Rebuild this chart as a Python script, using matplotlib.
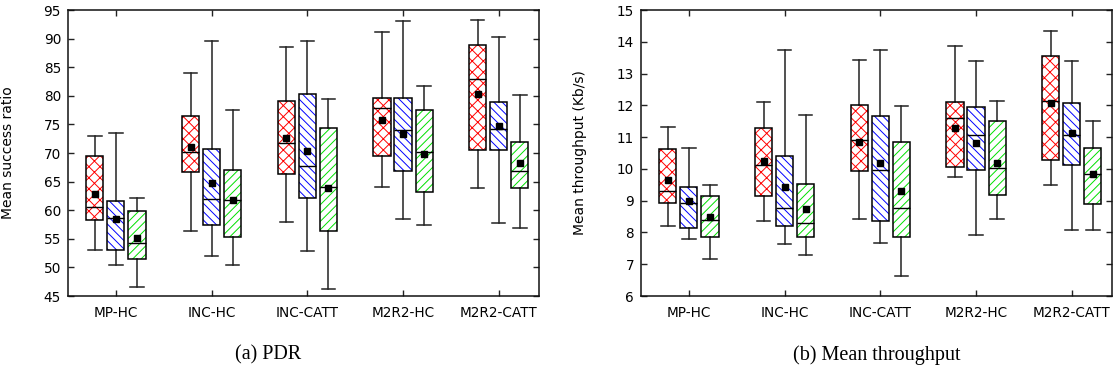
import matplotlib
matplotlib.use("Agg")
import matplotlib.pyplot as plt
import matplotlib.patches as mpatches
import numpy as np

# Categories on the x axis
categories = ["MP-HC", "INC-HC", "INC-CATT", "M2R2-HC", "M2R2-CATT"]

# Each entry: (whisker low, Q1, median, Q3, whisker high, mean)
pdr_s1 = [(53.0, 58.3, 60.55, 69.5, 73.0, 62.9),
          (56.4, 66.6, 70.1, 76.5, 84.0, 71.0),
          (58.0, 66.4, 71.7, 79.15, 88.5, 72.7),
          (64.1, 69.5, 77.8, 79.56, 91.2, 75.8),
          (63.8, 70.5, 82.9, 88.8, 93.3, 80.4)]
pdr_s2 = [(50.5, 53.0, 58.6, 61.65, 73.55, 58.45),
          (52.05, 57.5, 62.0, 70.7, 89.6, 64.8),
          (52.9, 62.1, 67.8, 80.3, 89.6, 70.35),
          (58.5, 66.85, 74.0, 79.7, 93.0, 73.3),
          (57.8, 70.5, 74.2, 79.0, 90.2, 74.7)]
pdr_s3 = [(46.5, 51.4, 54.2, 59.8, 62.2, 55.1),
          (50.4, 55.4, 61.8, 67.1, 77.6, 61.8),
          (46.2, 56.4, 64.0, 74.3, 79.5, 63.9),
          (57.35, 63.1, 70.2, 77.6, 81.8, 69.9),
          (56.9, 63.8, 66.85, 72.0, 80.1, 68.3)]

thr_s1 = [(8.19, 8.93, 9.30, 10.63, 11.32, 9.65),
          (8.35, 9.16, 10.12, 11.30, 12.11, 10.25),
          (8.42, 9.92, 10.90, 12.00, 13.43, 10.85),
          (9.75, 10.05, 11.59, 12.11, 13.87, 11.29),
          (9.49, 10.28, 12.15, 13.55, 14.34, 12.06)]
thr_s2 = [(7.79, 8.14, 8.92, 9.43, 10.66, 8.99),
          (7.65, 8.19, 8.77, 10.42, 13.74, 9.43),
          (7.67, 8.37, 9.95, 11.67, 13.74, 10.20),
          (7.93, 9.97, 11.08, 11.96, 13.39, 10.80),
          (8.09, 10.11, 11.08, 12.06, 13.39, 11.13)]
thr_s3 = [(7.17, 7.86, 8.39, 9.16, 9.50, 8.49),
          (7.29, 7.86, 8.30, 9.53, 11.71, 8.73),
          (6.64, 7.87, 8.76, 10.86, 11.97, 9.30),
          (8.42, 9.18, 10.03, 11.51, 12.14, 10.20),
          (8.09, 8.88, 9.83, 10.66, 11.52, 9.84)]

pdr_ticks = list(range(45, 96, 5))
thr_ticks = list(range(6, 16, 1))

# Styling per series: hatch colour and pattern
series_styles = [("#ff0000", "xxx"), ("#0000ff", "\\\\\\\\"), ("#00e000", "////")]
offsets = [-0.22, 0.0, 0.22]
box_w = 0.18
cap_w = 0.14

plt.rcParams["font.family"] = ["DejaVu Sans"]
plt.rcParams["hatch.linewidth"] = 0.7

fig = plt.figure(figsize=(11.13, 3.78), dpi=100)
ax1 = fig.add_axes([68 / 1113, 1 - 296 / 378, 471 / 1113, 286 / 378])
ax2 = fig.add_axes([641 / 1113, 1 - 296 / 378, 471 / 1113, 286 / 378])


def make_stats(rows):
    return [dict(whislo=r[0], q1=r[1], med=r[2], q3=r[3], whishi=r[4],
                 mean=r[5], fliers=[]) for r in rows]


def draw_panel(ax, series, ylim, yticks, ylabel):
    x = np.arange(1, len(categories) + 1)
    for rows, (col, hatch), off in zip(series, series_styles, offsets):
        res = ax.bxp(make_stats(rows), positions=x + off, widths=box_w,
                     patch_artist=True, showmeans=True, capwidths=cap_w,
                     manage_ticks=False,
                     boxprops=dict(facecolor="white", edgecolor=col,
                                   hatch=hatch, linewidth=0),
                     whiskerprops=dict(color="#222222", linewidth=1.1),
                     capprops=dict(color="#222222", linewidth=1.1),
                     medianprops=dict(color="black", linewidth=1.0),
                     meanprops=dict(marker="s", markerfacecolor="black",
                                    markeredgecolor="black", markersize=4.0))
        for box in res["boxes"]:
            outline = mpatches.PathPatch(box.get_path(), transform=box.get_transform(),
                                         fill=False, edgecolor="black",
                                         linewidth=1.1, zorder=box.get_zorder() + 0.1)
            ax.add_patch(outline)
        for m in res["medians"]:
            m.set_zorder(3)
        for m in res["means"]:
            m.set_zorder(4)
    ax.set_xlim(0.5, 5.42)
    ax.set_ylim(*ylim)
    ax.set_xticks(x)
    ax.set_xticklabels(categories)
    ax.set_yticks(yticks)
    ax.tick_params(direction="in", length=4.5, width=1.0, top=True, right=True,
                   labelsize=9.8, color="#222222")
    ax.tick_params(axis="x", pad=7)
    ax.tick_params(axis="y", pad=5)
    for s in ax.spines.values():
        s.set_linewidth(1.1)
        s.set_color("#111111")
    ax.set_ylabel(ylabel, fontsize=10)


draw_panel(ax1, [pdr_s1, pdr_s2, pdr_s3], (45, 95), pdr_ticks, "Mean success ratio")
draw_panel(ax2, [thr_s1, thr_s2, thr_s3], (6, 15), thr_ticks, "Mean throughput (Kb/s)")

ax1.yaxis.set_label_coords(-0.112, 0.5)
ax2.yaxis.set_label_coords(-0.115, 0.5)

fig.text(268 / 1113, 1 - 355 / 378, "(a) PDR", ha="center", va="center",
         fontsize=14.5, family="Liberation Serif")
fig.text(877 / 1113, 1 - 355 / 378, "(b) Mean throughput", ha="center", va="center",
         fontsize=14.5, family="Liberation Serif")

fig.savefig("out.png", dpi=100)
